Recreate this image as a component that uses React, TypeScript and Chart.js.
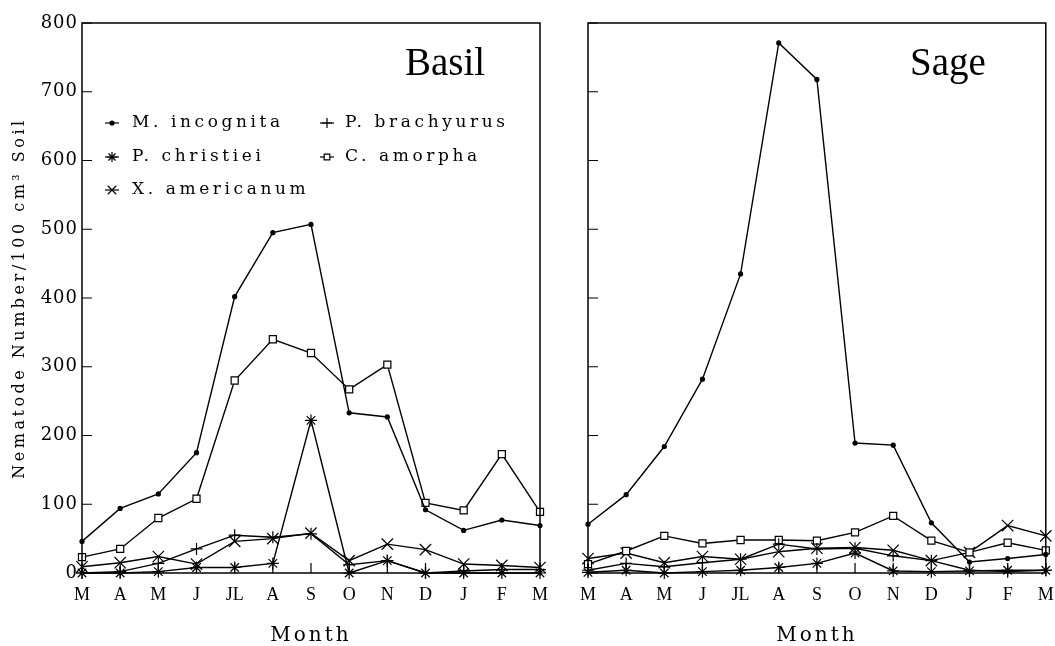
import React, { useEffect, useRef } from 'react';
import { Chart, registerables } from 'chart.js';
import { drawPoint } from 'chart.js/helpers';

Chart.register(...registerables);

// ---------- data ----------
const MONTHS = ['M', 'A', 'M', 'J', 'JL', 'A', 'S', 'O', 'N', 'D', 'J', 'F', 'M'];
const Y_MIN = 0;
const Y_MAX = 800;
const Y_STEP = 100;

const SPECIES = ['M. incognita', 'P. brachyurus', 'P. christiei', 'C. amorpha', 'X. americanum'];

const basilMIncognita = [46, 94, 115, 175, 402, 495, 507, 233, 227, 92, 62, 77, 69];
const basilPBrachyurus = [0, 2, 14, 35, 55, 52, 57, 12, 18, 0, 3, 5, 5];
const basilPChristiei = [0, 0, 2, 8, 8, 14, 222, 0, 18, 0, 0, 0, 0];
const basilCAmorpha = [23, 35, 80, 108, 280, 340, 320, 267, 303, 102, 91, 173, 89];
const basilXAmericanum = [9, 15, 24, 13, 46, 50, 58, 18, 42, 34, 13, 11, 8];

const sageMIncognita = [71, 114, 184, 282, 435, 771, 718, 189, 186, 73, 16, 21, 27];
const sagePBrachyurus = [4, 14, 9, 15, 20, 42, 35, 36, 25, 18, 4, 2, 4];
const sagePChristiei = [1, 4, 0, 2, 4, 8, 14, 29, 3, 2, 3, 4, 4];
const sageCAmorpha = [13, 32, 54, 43, 48, 48, 47, 59, 83, 47, 30, 44, 33];
const sageXAmericanum = [21, 29, 15, 24, 20, 31, 36, 37, 33, 18, 30, 69, 54];

const Y_TITLE = 'Nematode Number/100 cm\u00B3 Soil';
const X_TITLE = 'Month';

// ---------- styles ----------
const MARKERS = [
  { pointStyle: 'circle', radius: 2, fill: '#000', legendRadius: 2 },
  { pointStyle: 'cross', radius: 6, fill: '#000', legendRadius: 5 },
  { pointStyle: 'star', radius: 6, fill: '#000', legendRadius: 5 },
  { pointStyle: 'rect', radius: 5, fill: '#fff', legendRadius: 4 },
  { pointStyle: 'crossRot', radius: 8, fill: '#000', legendRadius: 6 },
];
const LEGEND_SLOTS = [[0, 0], [1, 0], [0, 1], [1, 1], [0, 2]];

const SPACING: Record<string, { labels: string; title: string }> = {
  x: { labels: '0px', title: '3px' },
  y: { labels: '1px', title: '3.5px' },
};

function makeDatasets(series: number[][]) {
  return series.map((data, i) => ({
    label: SPECIES[i],
    data,
    borderColor: '#000',
    borderWidth: 1.4,
    tension: 0,
    clip: 20,
    pointStyle: MARKERS[i].pointStyle,
    pointRadius: MARKERS[i].radius,
    pointHoverRadius: MARKERS[i].radius,
    pointBackgroundColor: MARKERS[i].fill,
    pointBorderColor: '#000',
    pointBorderWidth: 1.2,
  }));
}

// per-scale letter spacing for the library's own tick labels and titles
const spacingPlugin = {
  id: 'spacing',
  beforeDraw(chart: any) {
    ['x', 'y'].forEach((id) => {
      const s = chart.scales[id];
      if (!s || s.__spaced) return;
      s.__spaced = true;
      const dl = s.drawLabels.bind(s);
      const dt = s.drawTitle.bind(s);
      s.drawLabels = (area: any) => {
        const c = chart.ctx;
        c.save();
        c.letterSpacing = SPACING[id].labels;
        dl(area);
        c.restore();
      };
      s.drawTitle = (area: any) => {
        const c = chart.ctx;
        c.save();
        c.letterSpacing = SPACING[id].title;
        dt(area);
        c.restore();
      };
    });
  },
};

const framePlugin = {
  id: 'frame',
  afterDatasetsDraw(chart: any) {
    const { ctx, chartArea: a, scales } = chart;
    ctx.save();
    ctx.strokeStyle = '#000';
    ctx.lineWidth = 1.5;
    ctx.strokeRect(a.left, a.top, a.right - a.left, a.bottom - a.top);
    ctx.lineWidth = 1.2;
    ctx.beginPath();
    scales.y.ticks.forEach((t: any) => {
      const y = scales.y.getPixelForValue(t.value);
      ctx.moveTo(a.left, y);
      ctx.lineTo(a.left + 10, y);
    });
    scales.x.ticks.forEach((_t: any, i: number) => {
      const x = scales.x.getPixelForTick(i);
      ctx.moveTo(x, a.bottom);
      ctx.lineTo(x, a.bottom - 10);
    });
    ctx.stroke();
    ctx.restore();
  },
};

const panelTitlePlugin = {
  id: 'panelTitle',
  afterDraw(chart: any, _args: any, opts: any) {
    const { ctx, chartArea: a } = chart;
    ctx.save();
    (ctx as any).letterSpacing = '0px';
    ctx.fillStyle = '#000';
    ctx.font = '39px "Liberation Serif", serif';
    ctx.textBaseline = 'alphabetic';
    ctx.textAlign = 'left';
    ctx.fillText(opts.text, a.left + opts.dx, a.top + 52);
    ctx.restore();
  },
};

const nemLegendPlugin = {
  id: 'nemLegend',
  afterDraw(chart: any, _args: any, opts: any) {
    if (!opts.show) return;
    const { ctx, chartArea: a } = chart;
    ctx.save();
    ctx.fillStyle = '#000';
    ctx.strokeStyle = '#000';
    (ctx as any).letterSpacing = '3.6px';
    ctx.font = '17px "DejaVu Serif", serif';
    ctx.textBaseline = 'middle';
    ctx.textAlign = 'left';
    const colMarker = [a.left + 30, a.left + 245];
    const colText = [a.left + 50, a.left + 263];
    const rowY = [a.top + 100, a.top + 134, a.top + 167];
    chart.data.datasets.forEach((ds: any, i: number) => {
      const [c, r] = LEGEND_SLOTS[i];
      const mx = colMarker[c];
      const y = rowY[r];
      ctx.lineWidth = 1.2;
      ctx.beginPath();
      ctx.moveTo(mx - 7, y);
      ctx.lineTo(mx + 7, y);
      ctx.stroke();
      ctx.fillStyle = MARKERS[i].fill;
      drawPoint(ctx, { pointStyle: MARKERS[i].pointStyle, radius: MARKERS[i].legendRadius, rotation: 0, borderWidth: 1.1 } as any, mx, y);
      ctx.fillStyle = '#000';
      ctx.fillText(ds.label, colText[c], y);
    });
    ctx.restore();
  },
};

function makeConfig(series: number[][], isLeft: boolean, panel: string): any {
  return {
    type: 'line',
    data: { labels: MONTHS, datasets: makeDatasets(series) },
    plugins: [spacingPlugin, framePlugin, panelTitlePlugin, nemLegendPlugin],
    options: {
      animation: false,
      responsive: false,
      events: [],
      layout: { padding: { left: 0, right: isLeft ? 20 : 8, top: 23, bottom: 0 } },
      plugins: {
        legend: { display: false },
        tooltip: { enabled: false },
        panelTitle: { text: panel, dx: isLeft ? 323 : 322 },
        nemLegend: { show: isLeft },
      },
      scales: {
        x: {
          type: 'category',
          offset: false,
          grid: { display: false, drawTicks: false },
          border: { display: false },
          afterFit: (s: any) => {
            s.height = 73;
            s.paddingLeft = 0;
            s.paddingRight = 0;
          },
          ticks: {
            autoSkip: false,
            maxRotation: 0,
            minRotation: 0,
            padding: 11,
            color: '#000',
            font: { family: '"Liberation Serif", serif', size: 18 },
          },
          title: {
            display: true,
            text: X_TITLE,
            color: '#000',
            padding: { top: 0, bottom: -2 },
            font: { family: '"DejaVu Serif", serif', size: 20 },
          },
        },
        y: {
          min: Y_MIN,
          max: Y_MAX,
          grid: { display: false, drawTicks: false },
          border: { display: false },
          afterFit: (s: any) => {
            s.width = isLeft ? 82 : 28;
          },
          ticks: {
            stepSize: Y_STEP,
            display: isLeft,
            padding: 4,
            color: '#000',
            font: { family: '"DejaVu Serif", serif', size: 18 },
          },
          title: {
            display: isLeft,
            text: Y_TITLE,
            color: '#000',
            padding: { top: 10.4, bottom: 0 },
            font: { family: '"DejaVu Serif", serif', size: 16 },
          },
        },
      },
    },
  };
}

function Panel(props: { series: number[][]; isLeft: boolean; panel: string; left: number; width: number }) {
  const ref = useRef<HTMLCanvasElement | null>(null);
  useEffect(() => {
    if (!ref.current) return;
    const chart = new Chart(ref.current, makeConfig(props.series, props.isLeft, props.panel));
    return () => chart.destroy();
  }, []);
  return (
    <canvas
      ref={ref}
      width={props.width}
      height={646}
      style={{ position: 'absolute', left: props.left, top: 0, width: props.width, height: 646 }}
    />
  );
}

export default function App() {
  const basil = [basilMIncognita, basilPBrachyurus, basilPChristiei, basilCAmorpha, basilXAmericanum];
  const sage = [sageMIncognita, sagePBrachyurus, sagePChristiei, sageCAmorpha, sageXAmericanum];
  return (
    <div style={{ position: 'absolute', left: 0, top: 0, width: 1055, height: 646, background: '#fff', overflow: 'hidden' }}>
      <Panel series={basil} isLeft={true} panel="Basil" left={0} width={560} />
      <Panel series={sage} isLeft={false} panel="Sage" left={560} width={495} />
    </div>
  );
}
